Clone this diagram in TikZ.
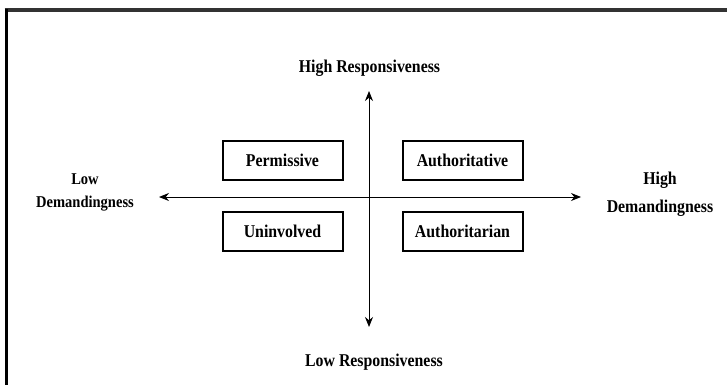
\documentclass[tikz,border=0pt]{standalone}
\usepackage{fontspec}
\setmainfont{Liberation Serif}[FakeStretch=0.88]
\usetikzlibrary{arrows.meta}

\tikzset{
  style box/.style={draw, line width=2pt, minimum width=120pt, minimum height=39pt,
    font=\bfseries\fontsize{18}{21}\selectfont},
  axis label/.style={font=\bfseries\fontsize{18}{21}\selectfont},
  axis line/.style={line width=1pt, {Stealth[length=10pt,width=8pt]}-{Stealth[length=10pt,width=8pt]}}
}

\begin{document}
\begin{tikzpicture}[x=1pt, y=-1pt]
  \useasboundingbox (0,0) rectangle (727,385);

  % Frame
  \draw[line width=4pt, black!80] (4.5,10) -- (727,10);
  \draw[line width=3pt] (6,9) -- (6,385);

  % Axis ends
  \coordinate (top) at (369,91);
  \coordinate (bottom) at (369,327);
  \coordinate (left) at (159,197);
  \coordinate (right) at (581,197);

  % Axes
  \draw[axis line] (bottom) -- (top);
  \draw[axis line] (left) -- (right);

  % Axis labels
  \node[axis label, anchor=base] (highresp) at (369.5,73) {High Responsiveness};
  \node[axis label, anchor=base] (lowresp) at (374,366) {Low Responsiveness};
  \node[align=center, font=\bfseries\fontsize{16.5}{23}\selectfont] (lowdem) at (85,192) {Low\\Demandingness};
  \node[align=center, font=\bfseries\fontsize{18}{28}\selectfont] (highdem) at (660,194) {High\\Demandingness};

  % Parenting styles
  \node[style box] (permissive) at (282.5,160) {Permissive};
  \node[style box] (authoritative) at (462.5,160) {Authoritative};
  \node[style box] (uninvolved) at (282.5,231) {Uninvolved};
  \node[style box] (authoritarian) at (462.5,231) {Authoritarian};

\end{tikzpicture}
\end{document}
